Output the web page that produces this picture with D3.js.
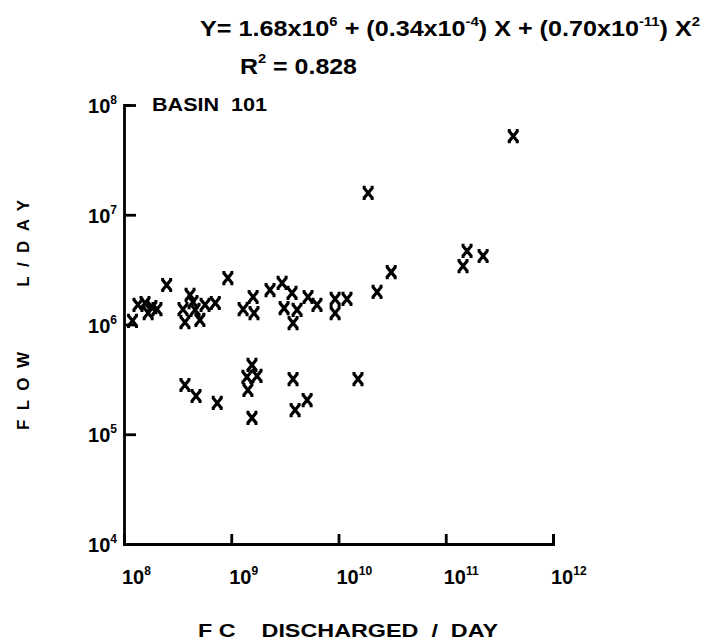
<!DOCTYPE html>
<html>
<head>
<meta charset="utf-8">
<script src="https://cdn.jsdelivr.net/npm/d3@7"></script>
<style>
  body { margin: 0; background: #fff; }
  text { font-family: "Liberation Sans", Arial, sans-serif; font-weight: bold; fill: #000; }
  .axis path, .axis line { stroke: #000; stroke-width: 2.8; }
</style>
</head>
<body>
<div id="chart"></div>
<script>

// FC discharged per day (x) and flow in L/day (y)
var fcPerDay = [
  1.2e8, 2.5e8, 1.35e8, 1.57e8, 1.68e8, 1.82e8, 2.03e8, 3.55e8, 3.7e8, 4.13e8,
  4.4e8, 4.6e8, 5.1e8, 5.7e8, 7.1e8, 9.3e8, 1.29e9, 1.6e9, 1.63e9, 2.3e9,
  2.98e9, 3.69e9, 3.11e9, 4.11e9, 3.77e9, 5.2e9, 6.3e9, 9.3e9, 9.3e9, 1.2e10,
  2.29e10, 3.1e10, 1.89e10, 1.58e11, 1.45e11, 2.23e11, 4.26e11,
  3.7e8, 4.7e8, 7.4e8, 1.56e9, 1.40e9, 1.74e9, 1.43e9, 1.56e9, 3.77e9,
  5.1e9, 3.94e9, 1.52e10
];
var flowPerDay = [
  1.08e6, 2.29e6, 1.51e6, 1.57e6, 1.27e6, 1.44e6, 1.38e6, 1.38e6, 1.05e6, 1.86e6,
  1.60e6, 1.36e6, 1.10e6, 1.51e6, 1.57e6, 2.65e6, 1.38e6, 1.78e6, 1.27e6, 2.06e6,
  2.39e6, 1.94e6, 1.41e6, 1.36e6, 1.03e6, 1.78e6, 1.51e6, 1.71e6, 1.27e6, 1.71e6,
  1.98e6, 3.0e6, 1.58e7, 4.68e6, 3.41e6, 4.21e6, 5.2e7,
  2.81e5, 2.23e5, 1.93e5, 4.28e5, 3.33e5, 3.40e5, 2.53e5, 1.41e5, 3.18e5,
  2.05e5, 1.66e5, 3.18e5
];

var xTickExps = [8, 9, 10, 11, 12];
var yTickExps = [4, 5, 6, 7, 8];

var width = 722, height = 644;

var svg = d3.select("#chart").append("svg")
    .attr("width", width)
    .attr("height", height);

var x = d3.scaleLog().domain([1e8, 1e12]).range([124, 553]);
var y = d3.scaleLog().domain([1e4, 1e8]).range([544, 105]);

// axes, ticks pointing inward
var xAxis = d3.axisBottom(x)
    .tickValues(xTickExps.map(function(e){ return Math.pow(10, e); }))
    .tickSize(-10)
    .tickSizeOuter(-10)
    .tickFormat("");
svg.append("g").attr("class", "axis")
    .attr("transform", "translate(0," + y(1e4) + ")")
    .call(xAxis);

var yAxis = d3.axisLeft(y)
    .tickValues(yTickExps.map(function(e){ return Math.pow(10, e); }))
    .tickSize(-12)
    .tickSizeOuter(-7)
    .tickFormat("");
svg.append("g").attr("class", "axis")
    .attr("transform", "translate(" + x(1e8) + ",0)")
    .call(yAxis);

svg.selectAll(".axis path").attr("fill", "none");

// tick labels with superscript exponents
var xLab = svg.selectAll(".xlab").data(xTickExps).enter()
    .append("text")
    .attr("class", "xlab")
    .attr("x", function(d){ return x(Math.pow(10, d)) - 2; })
    .attr("y", 584)
    .style("font-size", "20px");
xLab.append("tspan").text("10");
xLab.append("tspan").attr("dy", -9).style("font-size", "12px")
    .text(function(d){ return d; });

var yLab = svg.selectAll(".ylab").data(yTickExps).enter()
    .append("text")
    .attr("class", "ylab")
    .attr("x", 117)
    .attr("y", function(d){ return y(Math.pow(10, d)) + 8; })
    .attr("text-anchor", "end")
    .style("font-size", "20px");
yLab.append("tspan").text("10");
yLab.append("tspan").attr("dy", -9).style("font-size", "12px")
    .text(function(d){ return d; });

// points
var markX = "M-4.5,-5.5L4.5,5.5M4.5,-5.5L-4.5,5.5M-5.5,-5.5H-2.5M2.5,-5.5H5.5M-5.5,5.5H-2.5M2.5,5.5H5.5";
svg.selectAll(".pt").data(fcPerDay).enter()
    .append("path")
    .attr("class", "pt")
    .attr("d", markX)
    .attr("transform", function(d, i){
        return "translate(" + x(d) + "," + y(flowPerDay[i]) + ")";
    })
    .attr("fill", "none")
    .attr("stroke", "#000")
    .attr("stroke-width", 3.2);

// labels
svg.append("text")
    .attr("x", 152).attr("y", 111)
    .attr("textLength", 115)
    .attr("lengthAdjust", "spacingAndGlyphs")
    .style("font-size", "18px")
    .style("white-space", "pre")
    .text("BASIN  101");

svg.append("text")
    .attr("transform", "translate(29,430) rotate(-90)")
    .attr("textLength", 230)
    .attr("lengthAdjust", "spacing")
    .style("font-size", "17px")
    .style("white-space", "pre")
    .text("FLOW    L/DAY");

svg.append("text")
    .attr("x", 198).attr("y", 637)
    .attr("textLength", 300)
    .attr("lengthAdjust", "spacingAndGlyphs")
    .style("font-size", "19px")
    .style("white-space", "pre")
    .text("F C    DISCHARGED  /  DAY");

// regression equation
var eq = svg.append("text")
    .attr("x", 200).attr("y", 36)
    .attr("textLength", 500)
    .attr("lengthAdjust", "spacingAndGlyphs")
    .style("font-size", "22px")
    .style("white-space", "pre");
eq.append("tspan").text("Y= 1.68x10");
eq.append("tspan").attr("dy", -10).style("font-size", "13px").text("6");
eq.append("tspan").attr("dy", 10).text(" + (0.34x10");
eq.append("tspan").attr("dy", -10).style("font-size", "13px").text("-4");
eq.append("tspan").attr("dy", 10).text(") X + (0.70x10");
eq.append("tspan").attr("dy", -10).style("font-size", "13px").text("-11");
eq.append("tspan").attr("dy", 10).text(") X");
eq.append("tspan").attr("dy", -10).style("font-size", "13px").text("2");

var r2 = svg.append("text")
    .attr("x", 240).attr("y", 74)
    .attr("textLength", 117)
    .attr("lengthAdjust", "spacingAndGlyphs")
    .style("font-size", "22px")
    .style("white-space", "pre");
r2.append("tspan").text("R");
r2.append("tspan").attr("dy", -11).style("font-size", "13px").text("2");
r2.append("tspan").attr("dy", 11).text(" = 0.828");

</script>
</body>
</html>
